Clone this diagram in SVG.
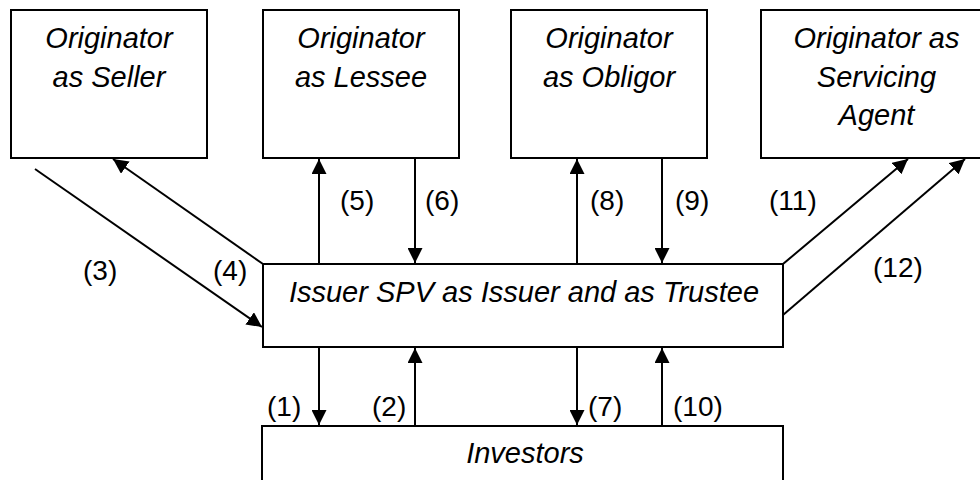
<svg xmlns="http://www.w3.org/2000/svg" width="980" height="480" viewBox="0 0 980 480">
  <style>
    .box { fill: #ffffff; stroke: #000000; stroke-width: 2; }
    .node-text { font-family: "Liberation Sans", Arial, sans-serif; font-style: italic; font-size: 29px; fill: #000000; text-anchor: middle; }
    .label { font-family: "Liberation Sans", Arial, sans-serif; font-size: 28px; fill: #000000; }
    .edge { stroke: #000000; stroke-width: 2; fill: none; marker-end: url(#arrow); }
  </style>
  <defs>
    <marker id="arrow" markerUnits="userSpaceOnUse" markerWidth="15" markerHeight="15" refX="15" refY="7.5" orient="auto">
      <path d="M0,0 L15,7.5 L0,15 Z" fill="#000000"/>
    </marker>
  </defs>
  <rect width="980" height="480" fill="#ffffff"/>

  <g id="seller">
    <rect class="box" x="11" y="10" width="196" height="148"/>
    <text class="node-text" x="109" y="48">Originator</text>
    <text class="node-text" x="109" y="87">as Seller</text>
  </g>
  <g id="lessee">
    <rect class="box" x="263" y="10" width="196" height="148"/>
    <text class="node-text" x="361" y="48">Originator</text>
    <text class="node-text" x="361" y="87">as Lessee</text>
  </g>
  <g id="obligor">
    <rect class="box" x="511" y="10" width="196" height="148"/>
    <text class="node-text" x="609" y="48">Originator</text>
    <text class="node-text" x="609" y="87">as Obligor</text>
  </g>
  <g id="servicer">
    <rect class="box" x="761" y="10" width="231" height="148"/>
    <text class="node-text" x="876.5" y="48">Originator as</text>
    <text class="node-text" x="876.5" y="87">Servicing</text>
    <text class="node-text" x="876.5" y="125">Agent</text>
  </g>
  <g id="issuer">
    <rect class="box" x="263" y="264" width="520" height="83"/>
    <text class="node-text" x="524" y="302">Issuer SPV as Issuer and as Trustee</text>
  </g>
  <g id="investors">
    <rect class="box" x="262" y="426" width="521" height="70"/>
    <text class="node-text" x="525" y="463">Investors</text>
  </g>

  <g id="connectors">
    <line class="edge" x1="35" y1="169" x2="262" y2="327"/>
    <line class="edge" x1="263" y1="264" x2="113" y2="159"/>
    <line class="edge" x1="319" y1="264" x2="319" y2="159"/>
    <line class="edge" x1="415" y1="158" x2="415" y2="263"/>
    <line class="edge" x1="577" y1="264" x2="577" y2="159"/>
    <line class="edge" x1="662" y1="158" x2="662" y2="263"/>
    <line class="edge" x1="783" y1="264" x2="908" y2="159"/>
    <line class="edge" x1="783" y1="315" x2="965" y2="159"/>
    <line class="edge" x1="319" y1="347" x2="319" y2="425"/>
    <line class="edge" x1="415" y1="426" x2="415" y2="348"/>
    <line class="edge" x1="577" y1="347" x2="577" y2="425"/>
    <line class="edge" x1="662" y1="426" x2="662" y2="348"/>
  </g>

  <g id="labels">
    <text class="label" x="83" y="280">(3)</text>
    <text class="label" x="213" y="280">(4)</text>
    <text class="label" x="340" y="210">(5)</text>
    <text class="label" x="425" y="210">(6)</text>
    <text class="label" x="590" y="210">(8)</text>
    <text class="label" x="675" y="210">(9)</text>
    <text class="label" x="769" y="210">(11)</text>
    <text class="label" x="873" y="277">(12)</text>
    <text class="label" x="267" y="416">(1)</text>
    <text class="label" x="372" y="416">(2)</text>
    <text class="label" x="588" y="416">(7)</text>
    <text class="label" x="673" y="416">(10)</text>
  </g>
</svg>
